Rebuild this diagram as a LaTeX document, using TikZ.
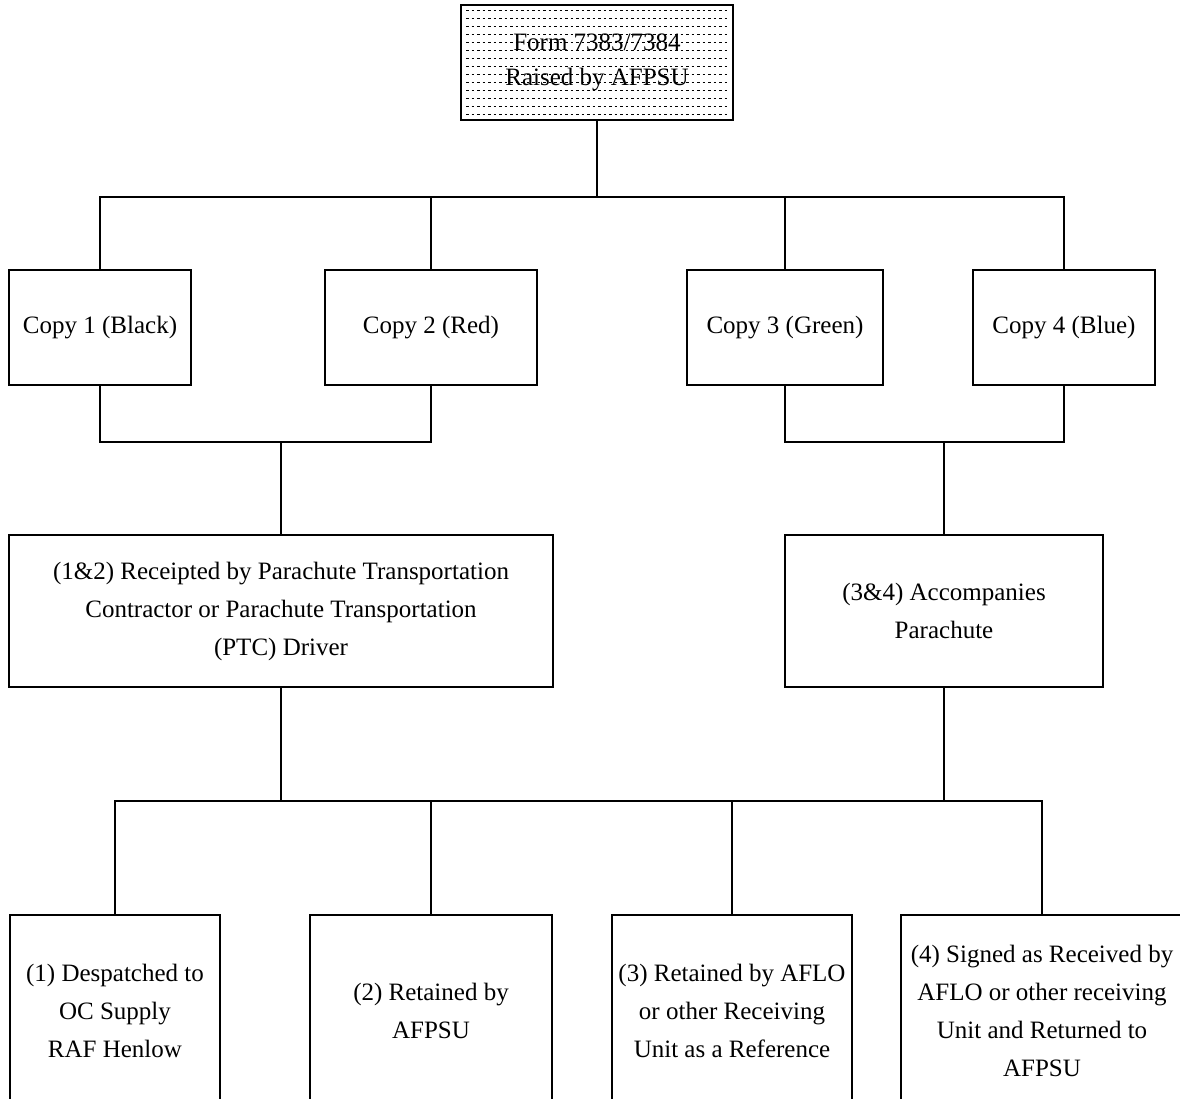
\documentclass[tikz,border=0pt]{standalone}
\usepackage{fontspec}
\setmainfont{Liberation Serif}

\begin{document}
\begin{tikzpicture}[
    x=1pt, y=-1pt,
    box/.style={rectangle, draw, line width=1.8pt, inner sep=0pt, align=center, font=\fontsize{25}{38}\selectfont},
    dotfill/.style={path picture={
        \foreach \k in {1,...,14}{
            \draw[line width=0.9pt, dash pattern=on 2.5pt off 3pt]
                ([xshift=5pt, yshift=-\k*8pt+3pt]path picture bounding box.north west) --
                ([xshift=-4pt, yshift=-\k*8pt+3pt]path picture bounding box.north east);
        }}},
    link/.style={line width=1.8pt}
]
\clip (0,0) rectangle (1180,1099);

\node[box, dotfill, minimum width=272pt, minimum height=115pt, font=\fontsize{25}{35}\selectfont] (form) at (597,62.5) {Form 7383/7384\\Raised by AFPSU};

\node[box, minimum width=182pt, minimum height=115pt] (copy1) at (100,327.5) {Copy 1 (Black)};
\node[box, minimum width=212pt, minimum height=115pt] (copy2) at (431,327.5) {Copy 2 (Red)};
\node[box, minimum width=196pt, minimum height=115pt] (copy3) at (785,327.5) {Copy 3 (Green)};
\node[box, minimum width=182pt, minimum height=115pt] (copy4) at (1064,327.5) {Copy 4 (Blue)};

\node[box, minimum width=544pt, minimum height=152pt] (pair12) at (281,611) {(1\&2) Receipted by Parachute Transportation\\Contractor or Parachute Transportation\\(PTC) Driver};
\node[box, minimum width=318pt, minimum height=152pt] (pair34) at (944,611) {(3\&4) Accompanies\\Parachute};

\node[box, minimum width=210pt, minimum height=192pt] (dest1) at (115,1011) {(1) Despatched to\\OC Supply\\RAF Henlow};
\node[box, minimum width=242pt, minimum height=192pt] (dest2) at (431,1011) {(2) Retained by\\AFPSU};
\node[box, minimum width=240pt, minimum height=192pt] (dest3) at (732,1011) {(3) Retained by AFLO\\or other Receiving\\Unit as a Reference};
\node[box, minimum width=282pt, minimum height=192pt] (dest4) at (1042,1011) {(4) Signed as Received by\\AFLO or other receiving\\Unit and Returned to\\AFPSU};

\draw[link] (form.south) -- ++(0,76) -| (copy1.north);
\draw[link] (form.south) -- ++(0,76) -| (copy2.north);
\draw[link] (form.south) -- ++(0,76) -| (copy3.north);
\draw[link] (form.south) -- ++(0,76) -| (copy4.north);

\draw[link] (copy1.south) -- ++(0,56) -| (pair12.north);
\draw[link] (copy2.south) -- ++(0,56) -| (pair12.north);
\draw[link] (copy3.south) -- ++(0,56) -| (pair34.north);
\draw[link] (copy4.south) -- ++(0,56) -| (pair34.north);

\draw[link] (pair12.south) -- ++(0,113) -| (dest1.north);
\draw[link] (pair12.south) -- ++(0,113) -| (dest2.north);
\draw[link] (pair12.south) -- ++(0,113) -| (pair34.south);
\draw[link] (pair34.south) -- ++(0,113) -| (dest3.north);
\draw[link] (pair34.south) -- ++(0,113) -| (dest4.north);

\end{tikzpicture}
\end{document}
